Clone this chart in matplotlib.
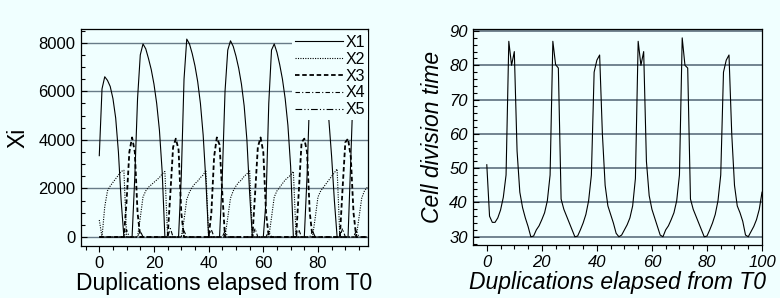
import numpy as np
import matplotlib.pyplot as plt
from matplotlib.ticker import MultipleLocator

plt.rcParams['font.family'] = ['Liberation Sans', 'DejaVu Sans']

# --- data ---
dup = np.arange(0, 99)

X1 = [3350, 6100, 6600, 6450, 6200, 5700, 4900, 3500, 1500, 0,
      0, 0, 0, 2500, 5700, 7500, 7950, 7750, 7350, 6900,
      6300, 5500, 4400, 2700, 0, 0, 0, 0, 0, 0,
      2500, 6500, 8150, 7950, 7550, 7050, 6400, 5500, 4200, 2300,
      0, 0, 0, 0, 0, 2500, 6000, 7700, 8080, 7850,
      7450, 6950, 6300, 5400, 4000, 1800, 0, 0, 0, 0,
      0, 1500, 5500, 7700, 7950, 7600, 7100, 6500, 5700, 4600,
      2900, 0, 0, 0, 0, 0, 2500, 6000, 7500, 7950,
      7800, 7400, 6800, 6000, 4800, 3300, 1500, 0, 0, 0,
      0, 0, 3200, 6500, 7700, 8000, 7800, 7400, 6900]

X2 = [700, 0, 1250, 1900, 2100, 2250, 2400, 2550, 2700, 2750,
      0, 0, 0, 0, 0, 800, 1650, 1900, 2050, 2150,
      2250, 2350, 2450, 2600, 2700, 0, 0, 0, 0, 0,
      0, 700, 1550, 1850, 2050, 2200, 2300, 2450, 2550, 2750,
      0, 0, 0, 0, 0, 0, 0, 800, 1600, 1900,
      2100, 2250, 2350, 2500, 2600, 2750, 0, 0, 0, 0,
      0, 0, 0, 800, 1650, 1900, 2050, 2200, 2350, 2450,
      2550, 2700, 0, 0, 0, 0, 0, 0, 0, 800,
      1650, 1900, 2050, 2200, 2350, 2500, 2650, 2800, 0, 0,
      0, 0, 0, 0, 0, 800, 1600, 1900, 2050]

X3 = [0, 0, 0, 0, 0, 0, 0, 0, 0, 0,
      1500, 3500, 4100, 3500, 1000, 0, 0, 0, 0, 0,
      0, 0, 0, 0, 0, 0, 1800, 3700, 4050, 3600,
      1000, 0, 0, 0, 0, 0, 0, 0, 0, 0,
      0, 1000, 3300, 4100, 3800, 1800, 0, 0, 0, 0,
      0, 0, 0, 0, 0, 0, 0, 1800, 3700, 4100,
      3500, 1000, 0, 0, 0, 0, 0, 0, 0, 0,
      0, 0, 0, 1900, 3900, 4050, 3500, 1000, 0, 0,
      0, 0, 0, 0, 0, 0, 0, 0, 0, 2000,
      3900, 4050, 3300, 1000, 0, 0, 0, 0, 0]

X4 = [0, 0, 0, 0, 0, 0, 0, 0, 0, 0,
      300, 0, 0, 0, 0, 0, 0, 0, 0, 0,
      0, 0, 0, 0, 0, 0, 350, 0, 0, 0,
      0, 0, 0, 0, 0, 0, 0, 0, 0, 0,
      0, 300, 0, 0, 0, 0, 0, 0, 0, 0,
      0, 0, 0, 0, 0, 0, 0, 350, 0, 0,
      0, 0, 0, 0, 0, 0, 0, 0, 0, 0,
      0, 0, 0, 300, 0, 0, 0, 0, 0, 0,
      0, 0, 0, 0, 0, 0, 0, 0, 0, 350,
      0, 0, 0, 0, 0, 0, 0, 0, 0]

X5 = [0, 0, 0, 0, 0, 0, 0, 0, 0, 0,
      0, 0, 0, 0, 0, 250, 0, 0, 0, 0,
      0, 0, 0, 0, 0, 0, 0, 0, 0, 0,
      0, 250, 0, 0, 0, 0, 0, 0, 0, 0,
      0, 0, 0, 0, 0, 0, 250, 0, 0, 0,
      0, 0, 0, 0, 0, 0, 0, 0, 0, 0,
      0, 0, 250, 0, 0, 0, 0, 0, 0, 0,
      0, 0, 0, 0, 0, 0, 0, 0, 250, 0,
      0, 0, 0, 0, 0, 0, 0, 0, 0, 0,
      0, 0, 0, 0, 250, 0, 0, 0, 0]

dup2 = np.arange(0, 101)
divtime = [51, 36, 34.2, 34.2, 35.5, 37.8, 41.5, 48, 87, 80,
           84, 55, 43, 38.5, 35.5, 33, 30, 30.2, 32, 33.2,
           35, 37, 40.5, 48, 87, 80.2, 79.2, 41, 38, 36,
           34, 32, 30, 30.2, 32, 34, 36.5, 40.5, 48, 78,
           81.5, 83, 60, 45, 39, 36.5, 34, 31, 30, 30.5,
           32, 33.5, 35.5, 39, 47, 87, 80, 84, 52, 42,
           38, 35.5, 33, 30.5, 30, 32, 33.2, 35, 37, 40.5,
           48, 88, 80, 79.2, 41, 38, 36, 34, 32, 30,
           30.2, 32, 34, 36.5, 40.5, 48, 78, 81.5, 83, 60,
           45, 39, 37, 34.5, 30.5, 30, 31.5, 33, 35, 38,
           43]

bg = '#f0ffff'
gridcol = '#687b88'

fig = plt.figure(figsize=(7.8, 2.98), dpi=100, facecolor=bg)

# left panel
ax1 = fig.add_axes([0.1038, 0.1745, 0.368, 0.728], facecolor=bg)
ax1.plot(dup, X1, color='black', lw=0.8, ls='-', label='X1')
ax1.plot(dup, X2, color='black', lw=0.8, ls=(0, (1, 1.2)), label='X2')
ax1.plot(dup, X3, color='black', lw=1.3, ls=(0, (2.5, 1.5)), label='X3')
ax1.plot(dup, X4, color='black', lw=0.8, ls=(0, (4, 2, 1, 2)), label='X4')
ax1.plot(dup, X5, color='black', lw=0.8, ls=(0, (6, 2, 1, 2, 1, 2)), label='X5')
ax1.set_xlim(-6.7, 98.3)
ax1.set_ylim(-370, 8564)
ax1.xaxis.set_major_locator(MultipleLocator(20))
ax1.xaxis.set_minor_locator(MultipleLocator(5))
ax1.yaxis.set_major_locator(MultipleLocator(2000))
ax1.yaxis.set_minor_locator(MultipleLocator(500))
ax1.set_xticks([0, 20, 40, 60, 80])
ax1.grid(axis='y', color=gridcol, lw=1.0)
ax1.set_axisbelow(True)
ax1.set_xlabel('Duplications elapsed from T0', fontsize=16.5, labelpad=1)
ax1.set_ylabel('Xi', fontsize=16.5, labelpad=6)
leg = ax1.legend(loc='upper right', bbox_to_anchor=(1.0, 0.985), fontsize=11.5,
                 handlelength=3.0, handletextpad=0.2, labelspacing=0.12,
                 borderpad=0.15, borderaxespad=0.0, frameon=True, fancybox=False)
leg.get_frame().set_facecolor(bg)
leg.get_frame().set_edgecolor('none')
leg.get_frame().set_alpha(1)

# right panel
ax2 = fig.add_axes([0.6068, 0.1779, 0.3705, 0.7238], facecolor=bg)
ax2.plot(dup2, divtime, color='black', lw=0.8)
ax2.set_xlim(-4.9, 100.1)
ax2.set_ylim(27.6, 90.5)
ax2.xaxis.set_major_locator(MultipleLocator(20))
ax2.xaxis.set_minor_locator(MultipleLocator(5))
ax2.yaxis.set_major_locator(MultipleLocator(10))
ax2.yaxis.set_minor_locator(MultipleLocator(2))
ax2.grid(axis='y', color=gridcol, lw=1.3)
ax2.set_axisbelow(True)
ax2.set_xlabel('Duplications elapsed from T0', fontsize=16.5, style='italic', labelpad=1)
ax2.set_ylabel('Cell division time', fontsize=16.5, style='italic', labelpad=4)

for ax in (ax1, ax2):
    ax.tick_params(which='both', direction='in', top=False, right=False,
                   labelsize=12, width=0.8, color='black')
    ax.tick_params(which='major', length=4)
    ax.tick_params(which='minor', length=3)
    ax.tick_params(axis='x', which='both', direction='out', pad=3)
    ax.tick_params(axis='y', which='both', pad=4)
    for s in ax.spines.values():
        s.set_linewidth(0.9)
        s.set_color('black')

for lab in ax2.get_xticklabels() + ax2.get_yticklabels():
    lab.set_style('italic')

fig.savefig('out.png', dpi=100, facecolor=bg)
